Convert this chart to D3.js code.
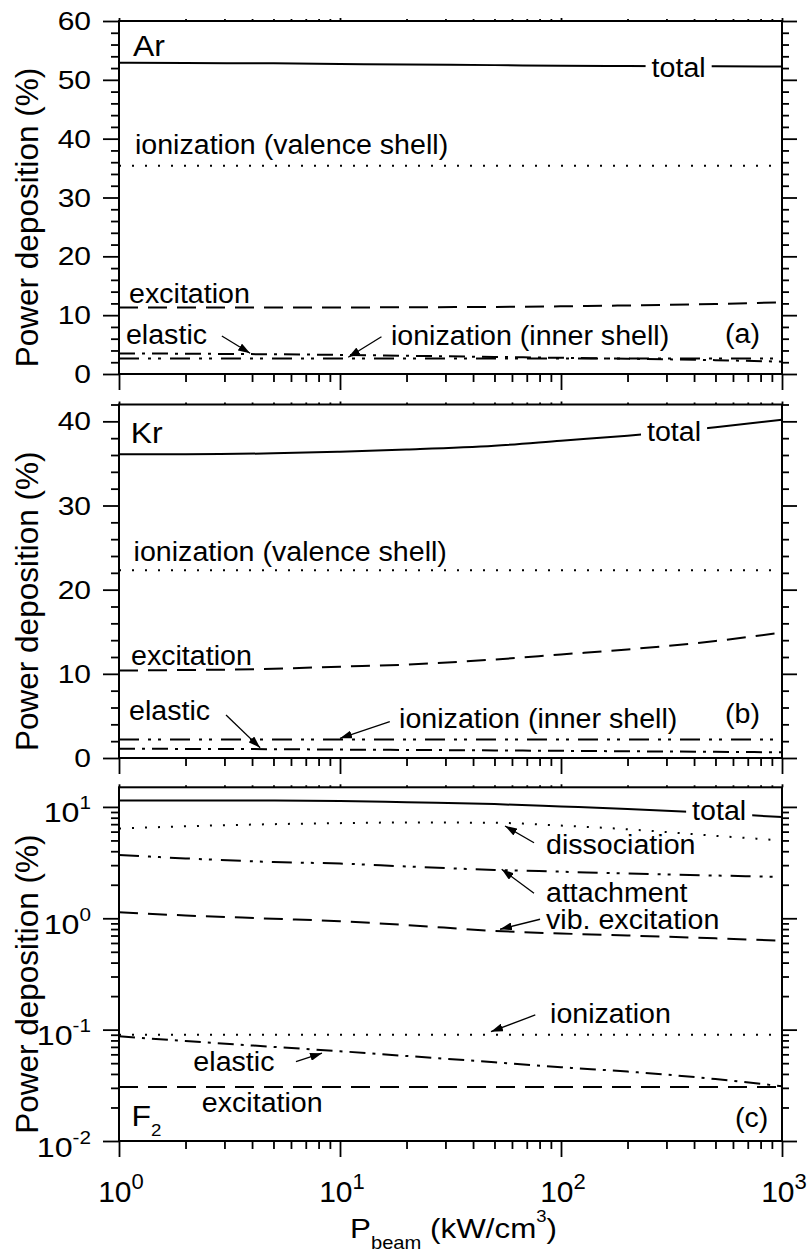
<!DOCTYPE html>
<html>
<head>
<meta charset="utf-8">
<script src="https://cdn.jsdelivr.net/npm/d3@7"></script>
<style>
body { margin: 0; background: #fff; }
text { font-family: "Liberation Sans", Arial, sans-serif; fill: #000; }
</style>
</head>
<body>
<svg id="chart" width="811" height="1255"></svg>
<script>
// beam power (kW/cm3), sampled points along each curve
var pbeam = [1, 2, 5, 10, 20, 50, 100, 200, 500, 1000];

// (a) Ar
var arTotal      = [52.9, 52.85, 52.8, 52.7, 52.6, 52.5, 52.4, 52.35, 52.3, 52.25];
var arIonValence = [35.4, 35.4, 35.4, 35.4, 35.4, 35.4, 35.4, 35.4, 35.4, 35.4];
var arExcitation = [11.3, 11.3, 11.3, 11.3, 11.35, 11.4, 11.5, 11.65, 11.9, 12.2];
var arElastic    = [3.5, 3.45, 3.35, 3.25, 3.1, 2.9, 2.75, 2.6, 2.35, 2.1];
var arIonInner   = [2.65, 2.65, 2.65, 2.65, 2.65, 2.65, 2.65, 2.65, 2.65, 2.65];

// (b) Kr
var krTotal      = [36.1, 36.1, 36.2, 36.4, 36.65, 37.1, 37.7, 38.3, 39.3, 40.2];
var krIonValence = [22.3, 22.3, 22.3, 22.3, 22.3, 22.3, 22.3, 22.3, 22.3, 22.3];
var krExcitation = [10.4, 10.45, 10.6, 10.85, 11.1, 11.7, 12.3, 12.9, 13.9, 14.9];
var krIonInner   = [2.2, 2.2, 2.2, 2.2, 2.2, 2.2, 2.2, 2.2, 2.2, 2.2];
var krElastic    = [1.1, 1.08, 1.05, 1.0, 0.96, 0.9, 0.85, 0.8, 0.73, 0.68];

// (c) F2
var f2Total        = [11.4, 11.4, 11.4, 11.3, 11.0, 10.6, 10.1, 9.6, 8.8, 8.1];
var f2Dissociation = [6.4, 6.7, 7.0, 7.15, 7.25, 7.2, 6.8, 6.3, 5.5, 5.0];
var f2Attachment   = [3.7, 3.45, 3.2, 3.1, 2.92, 2.72, 2.62, 2.52, 2.42, 2.35];
var f2VibExc       = [1.13, 1.06, 0.99, 0.94, 0.87, 0.77, 0.73, 0.7, 0.66, 0.63];
var f2Ionization   = [0.09, 0.09, 0.09, 0.09, 0.09, 0.09, 0.09, 0.09, 0.09, 0.09];
var f2Elastic      = [0.087, 0.079, 0.07, 0.064, 0.058, 0.051, 0.046, 0.042, 0.036, 0.031];
var f2Excitation   = [0.0305, 0.0305, 0.0305, 0.0305, 0.0305, 0.0305, 0.0305, 0.0305, 0.0305, 0.0305];

var xTickExp = ["0", "1", "2", "3"];
var yLogTickExp = ["-2", "-1", "0", "1"];

// line styles
var dashes = {
	solid: null,
	dot: "2,11",
	dash: "19,10",
	dashDot: "16,7,3,7",
	dashDotDot: "20,9,3,7,3,9"
};

var svg = d3.select("#chart");
var L = 119, R = 782;
var x = d3.scaleLog().domain([1, 1000]).range([L, R]);

svg.append("defs").append("marker")
	.attr("id", "arrow")
	.attr("markerUnits", "userSpaceOnUse")
	.attr("markerWidth", 13).attr("markerHeight", 8)
	.attr("refX", 12).attr("refY", 4)
	.attr("orient", "auto")
	.append("path").attr("d", "M0,0 L12,4 L0,8 Z").attr("fill", "#000");

// text stretched horizontally a bit, like the original
function addText(g, px, py, str, size, anchor, stretch)
{
	return g.append("text")
		.attr("transform", "translate(" + px + "," + py + ") scale(" + (stretch || 1.06) + ",1)")
		.attr("font-size", size)
		.attr("text-anchor", anchor || "start")
		.text(str);
}

var panels = [
	{
		name: "Ar", log: false, top: 21, bottom: 374, domain: [0, 60], showX: false,
		series: [
			{v: arTotal, d: "solid"}, {v: arIonValence, d: "dot"}, {v: arExcitation, d: "dash"},
			{v: arElastic, d: "dashDot"}, {v: arIonInner, d: "dashDotDot"}
		],
		labels: [
			{t: "total", x: 257, y: 50.53, gap: true},
			{t: "ionization (valence shell)", x: 1.18, y: 37.4},
			{t: "excitation", x: 1.11, y: 12.1},
			{t: "elastic", x: 1.075, y: 5.1},
			{t: "ionization (inner shell)", x: 17.0, y: 4.93},
			{t: "(a)", x: 552, y: 5.27}
		],
		arrows: [
			{x1: 2.92, y1: 6.46, x2: 3.92, y2: 3.52},
			{x1: 15.4, y1: 6.34, x2: 10.9, y2: 2.84}
		],
		nameAt: {x: 1.157, y: 54.05}
	},
	{
		name: "Kr", log: false, top: 404.5, bottom: 758, domain: [0, 42], showX: false,
		series: [
			{v: krTotal, d: "solid"}, {v: krIonValence, d: "dot"}, {v: krExcitation, d: "dash"},
			{v: krIonInner, d: "dashDotDot"}, {v: krElastic, d: "dashDot"}
		],
		labels: [
			{t: "total", x: 245, y: 37.7, gap: true},
			{t: "ionization (valence shell)", x: 1.164, y: 23.44},
			{t: "excitation", x: 1.133, y: 11.05},
			{t: "elastic", x: 1.11, y: 4.51},
			{t: "ionization (inner shell)", x: 18.5, y: 3.56},
			{t: "(b)", x: 552, y: 4.16}
		],
		arrows: [
			{x1: 3.05, y1: 5.11, x2: 4.35, y2: 1.22},
			{x1: 16.8, y1: 4.31, x2: 10.0, y2: 2.34}
		],
		nameAt: {x: 1.13, y: 37.4}
	},
	{
		name: "F", log: true, top: 787.3, bottom: 1141, domain: [0.01, 15], showX: true,
		series: [
			{v: f2Total, d: "solid"}, {v: f2Dissociation, d: "dot"}, {v: f2Attachment, d: "dashDotDot"},
			{v: f2VibExc, d: "dash"}, {v: f2Ionization, d: "dot"}, {v: f2Elastic, d: "dashDot"},
			{v: f2Excitation, d: "dash"}
		],
		labels: [
			{t: "total", x: 392, y: 7.63, gap: true},
			{t: "dissociation", x: 85.5, y: 3.78},
			{t: "attachment", x: 85.5, y: 1.41},
			{t: "vib. excitation", x: 85.5, y: 0.797},
			{t: "ionization", x: 89.2, y: 0.1156},
			{t: "elastic", x: 2.17, y: 0.0429},
			{t: "excitation", x: 2.37, y: 0.01836},
			{t: "(c)", x: 613, y: 0.01346}
		],
		arrows: [
			{x1: 75.5, y1: 4.77, x2: 55.8, y2: 6.74},
			{x1: 75.5, y1: 1.676, x2: 53.9, y2: 2.754},
			{x1: 80.4, y1: 0.98, x2: 53.0, y2: 0.797},
			{x1: 76.5, y1: 0.1355, x2: 48.2, y2: 0.0959},
			{x1: 6.32, y1: 0.0516, x2: 8.29, y2: 0.0614}
		],
		nameAt: {x: 1.14, y: 0.01366}
	}
];

var xMajor = [1, 10, 100, 1000];
var xMinor = [];
[1, 10, 100].forEach(function(dec){
	for (var k = 2; k < 10; k++) xMinor.push(dec * k);
});

panels.forEach(function(p)
{
	var g = svg.append("g").attr("class", "panel" + p.name);
	var y = p.log ? d3.scaleLog() : d3.scaleLinear();
	y.domain(p.domain).range([p.bottom, p.top]);

	var yMajor, yMinor;
	if (p.log)
	{
		yMajor = [0.01, 0.1, 1, 10];
		yMinor = [];
		[0.01, 0.1, 1, 10].forEach(function(dec){
			for (var k = 2; k < 10; k++) if (dec * k <= p.domain[1]) yMinor.push(dec * k);
		});
	}
	else
	{
		yMajor = d3.range(0, p.domain[1] + 0.01, 10);
		yMinor = d3.range(0, p.domain[1] + 0.01, 2).filter(function(d){ return d % 10 != 0; });
	}

	function axis(gen, tr, vals, size)
	{
		var a = g.append("g").attr("transform", tr)
			.call(gen.tickValues(vals).tickSize(size).tickFormat(""));
		a.select(".domain").remove();
		a.selectAll(".tick text").remove();
		a.selectAll(".tick line").attr("stroke", "#000").attr("stroke-width", 1.8);
	}
	axis(d3.axisLeft(y), "translate(" + L + ",0)", yMajor, 16);
	axis(d3.axisLeft(y), "translate(" + L + ",0)", yMinor, 8);
	axis(d3.axisRight(y), "translate(" + R + ",0)", yMajor, 15);
	axis(d3.axisRight(y), "translate(" + R + ",0)", yMinor, 7);
	axis(d3.axisBottom(x), "translate(0," + p.bottom + ")", xMajor, 16);
	axis(d3.axisBottom(x), "translate(0," + p.bottom + ")", xMinor, 8);
	axis(d3.axisTop(x), "translate(0," + p.top + ")", xMajor, 3);
	axis(d3.axisTop(x), "translate(0," + p.top + ")", xMinor, 2);

	g.append("rect")
		.attr("x", L).attr("y", p.top)
		.attr("width", R - L).attr("height", p.bottom - p.top)
		.attr("fill", "none").attr("stroke", "#000").attr("stroke-width", 2);

	// y tick labels
	yMajor.forEach(function(v, i){
		if (p.log)
		{
			var t = addText(g, 91, y(v) + 15.5, "", 28, "end", 1.15);
			t.append("tspan").text("10");
			t.append("tspan").attr("dy", -13).attr("font-size", 18).text(yLogTickExp[i]);
		}
		else
		{
			addText(g, 91, y(v) + 9, String(v), 25, "end", 1.2);
		}
	});

	// curves
	var line = d3.line()
		.x(function(d){ return x(d[0]); })
		.y(function(d){ return y(d[1]); })
		.curve(d3.curveMonotoneX);
	p.series.forEach(function(s){
		g.append("path")
			.datum(pbeam.map(function(px, i){ return [px, s.v[i]]; }))
			.attr("d", line)
			.attr("fill", "none")
			.attr("stroke", "#000")
			.attr("stroke-width", 2)
			.attr("stroke-dasharray", dashes[s.d]);
	});

	// labels
	p.labels.forEach(function(lb){
		var t = addText(g, x(lb.x), y(lb.y), lb.t, 27, "start", 1.06);
		if (lb.gap)
		{
			var bb = t.node().getBBox();
			var w = bb.width * 1.06;
			g.insert("rect", function(){ return t.node(); })
				.attr("x", x(lb.x) - 6).attr("y", y(lb.y) - 24)
				.attr("width", w + 12).attr("height", 30)
				.attr("fill", "#fff");
		}
	});

	p.arrows.forEach(function(a){
		g.append("line")
			.attr("x1", x(a.x1)).attr("y1", y(a.y1))
			.attr("x2", x(a.x2)).attr("y2", y(a.y2))
			.attr("stroke", "#000").attr("stroke-width", 1.3)
			.attr("marker-end", "url(#arrow)");
	});

	// panel name
	var nm = addText(g, x(p.nameAt.x), y(p.nameAt.y), p.name, 29, "start", 1.1);
	if (p.name == "F")
	{
		nm.append("tspan").attr("dy", 10).attr("font-size", 17).text("2");
	}

	// y title
	g.append("text")
		.attr("transform", "translate(38," + ((p.top + p.bottom) / 2 + 20) + ") rotate(-90)")
		.attr("font-size", 31.5)
		.attr("text-anchor", "middle")
		.text("Power deposition (%)");

	if (p.showX)
	{
		xMajor.forEach(function(v, i){
			var t = addText(g, x(v) + 2, 1202, "", 30, "middle", 1.0);
			t.append("tspan").text("10");
			t.append("tspan").attr("dy", -13).attr("font-size", 22).text(xTickExp[i]);
		});
		var xt = addText(g, (L + R) / 2 + 3, 1238.3, "", 28, "middle", 1.12);
		xt.append("tspan").text("P");
		xt.append("tspan").attr("dy", 11).attr("font-size", 18).text("beam");
		xt.append("tspan").attr("dy", -11).text(" (kW/cm");
		xt.append("tspan").attr("dy", -16.6).attr("font-size", 16.5).text("3");
		xt.append("tspan").attr("dy", 16.6).text(")");
	}
});
</script>
</body>
</html>
